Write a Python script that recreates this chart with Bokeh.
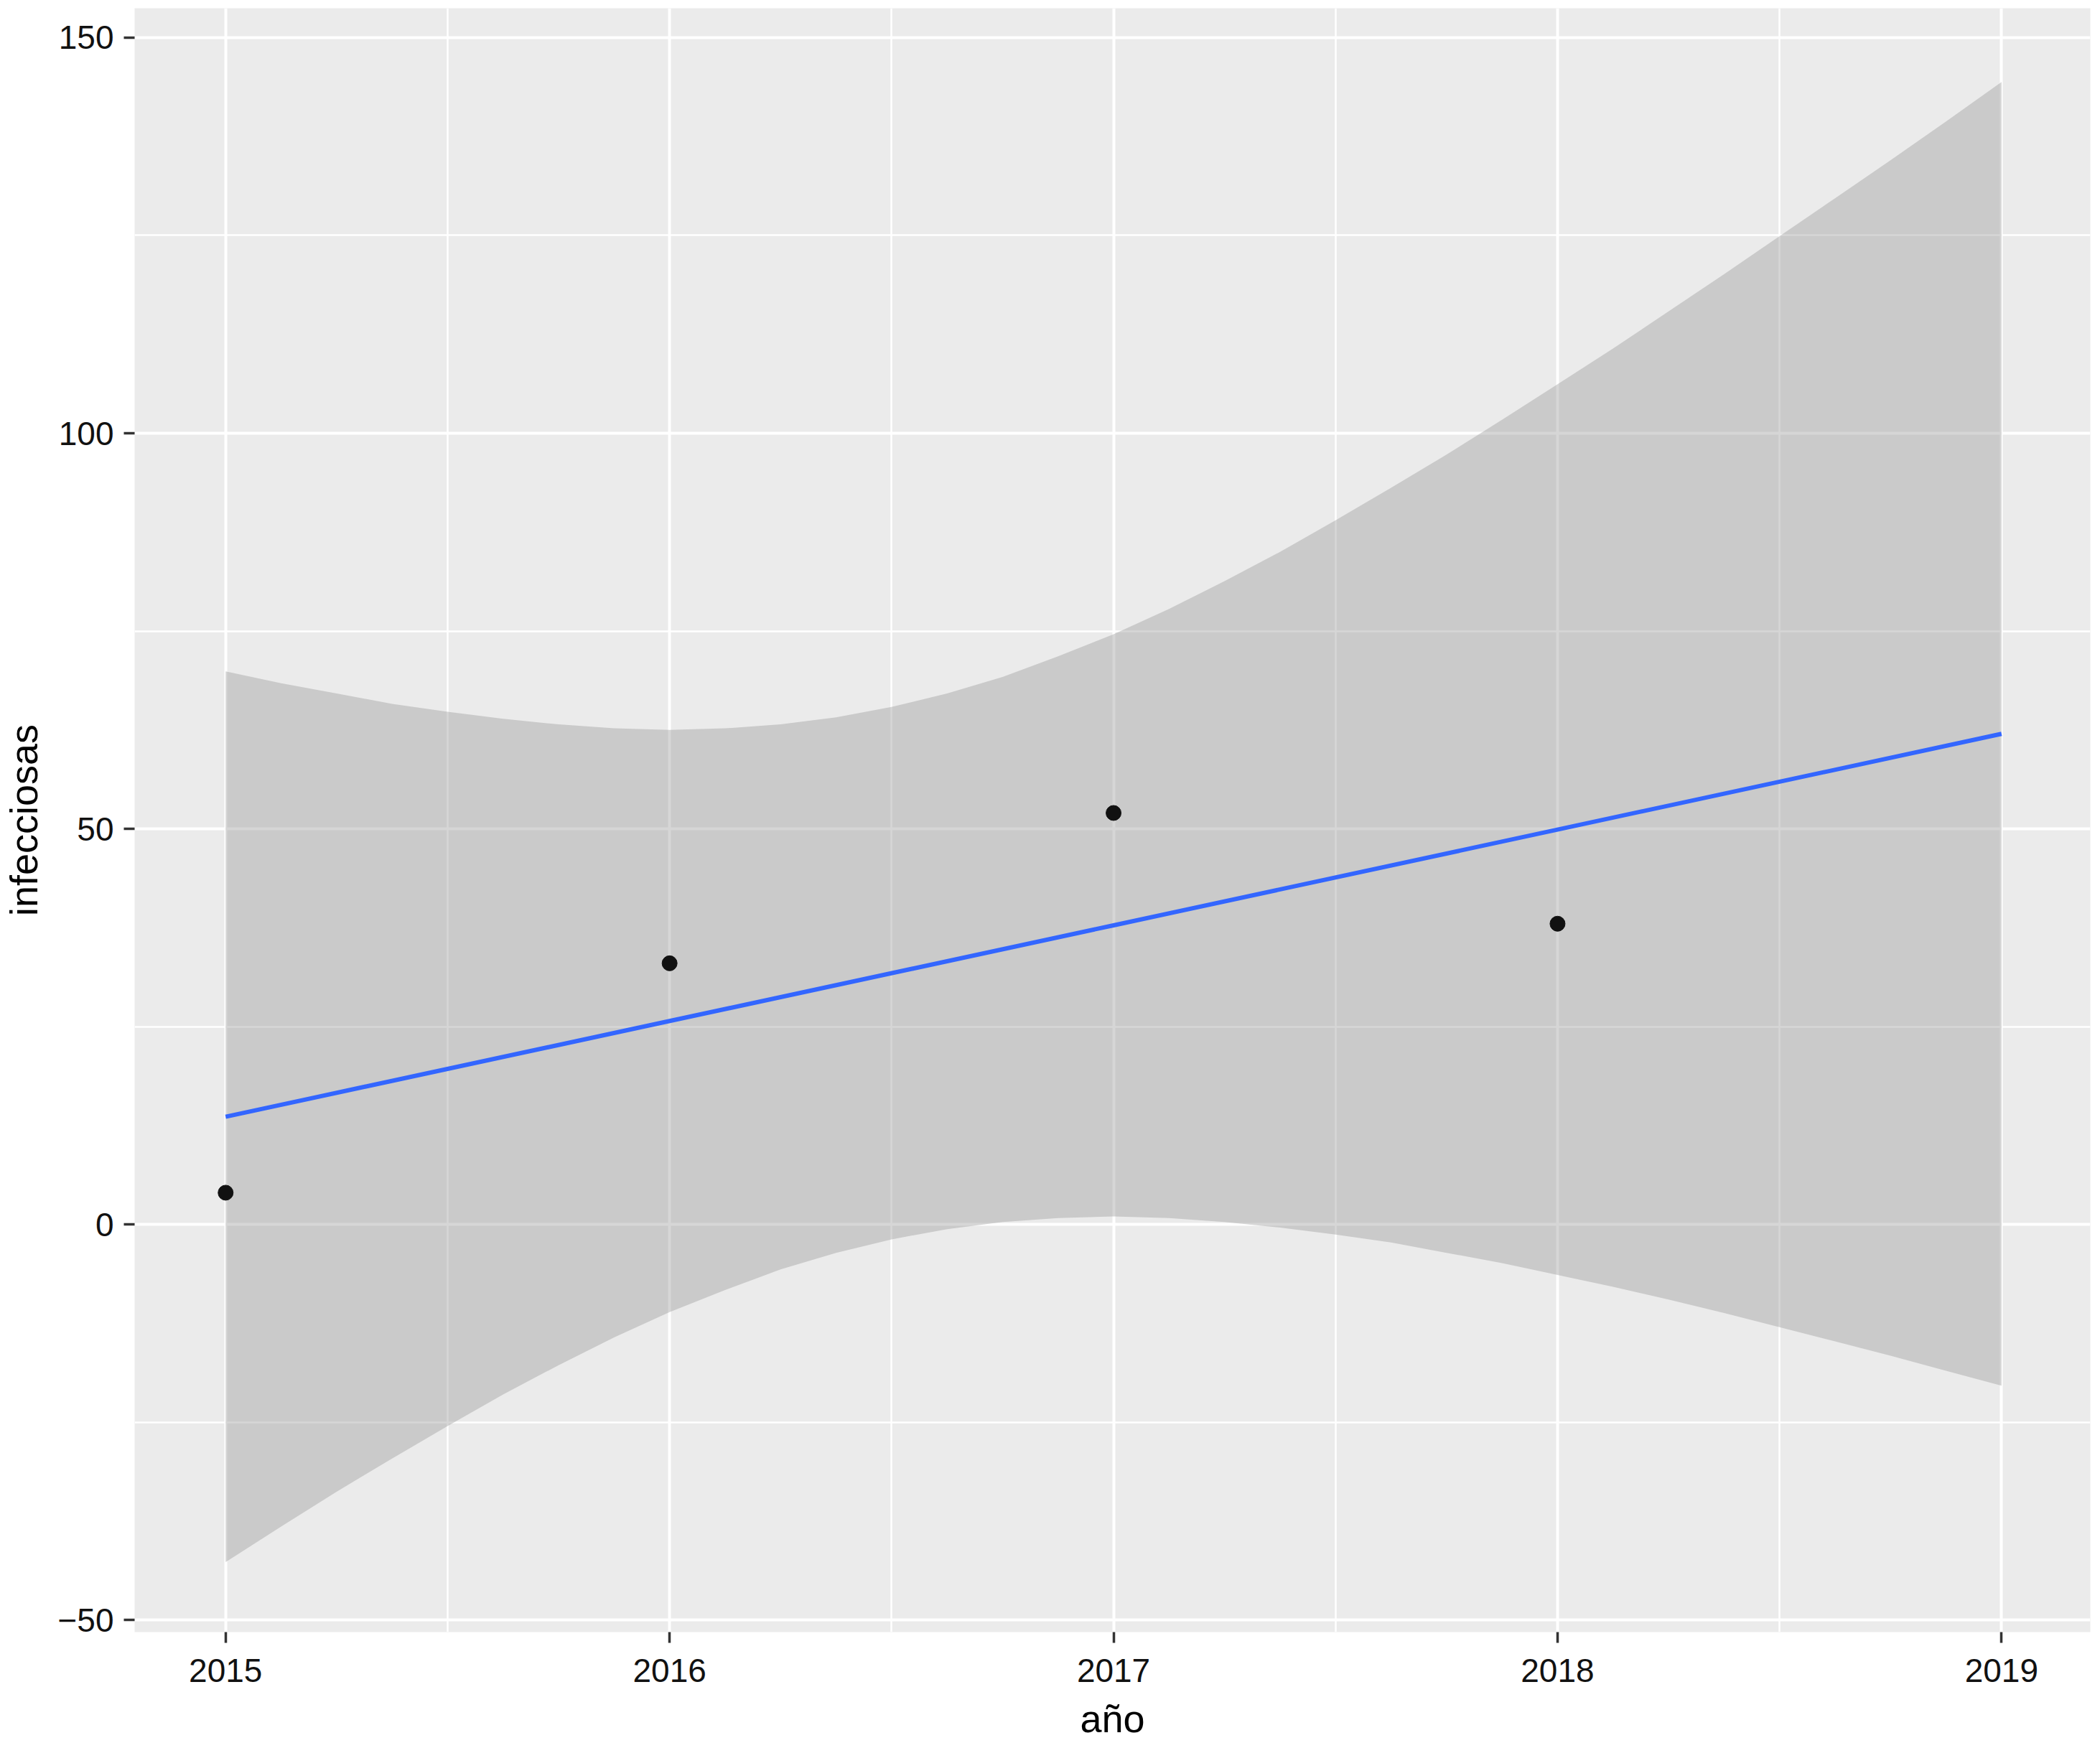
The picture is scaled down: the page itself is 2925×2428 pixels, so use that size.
from bokeh.plotting import figure
from bokeh.models import Range1d, FixedTicker
from bokeh.embed import file_html
from bokeh.resources import INLINE

# observed points
anio = [2015, 2016, 2017, 2018]
infecciosas = [4, 33, 52, 38]

# fitted line
anio_ajuste = [2015.0, 2016.0, 2017.0, 2018.0, 2019.0]
ajuste = [13.6, 25.7, 37.8, 49.9, 62.0]

# confidence band
anio_banda = [2015.0, 2015.125, 2015.25, 2015.375, 2015.5, 2015.625, 2015.75, 2015.875,
              2016.0, 2016.125, 2016.25, 2016.375, 2016.5, 2016.625, 2016.75, 2016.875,
              2017.0, 2017.125, 2017.25, 2017.375, 2017.5, 2017.625, 2017.75, 2017.875,
              2018.0, 2018.125, 2018.25, 2018.375, 2018.5, 2018.625, 2018.75, 2018.875, 2019.0]
ic_sup = [69.9, 68.4, 67.1, 65.8, 64.8, 63.9, 63.2, 62.7,
          62.5, 62.7, 63.2, 64.1, 65.4, 67.1, 69.2, 71.8,
          74.6, 77.8, 81.3, 85.0, 89.0, 93.1, 97.3, 101.7,
          106.2, 110.7, 115.4, 120.1, 124.9, 129.7, 134.5, 139.4, 144.4]
ic_inf = [-42.7, -38.2, -33.8, -29.6, -25.5, -21.5, -17.8, -14.3,
          -11.1, -8.3, -5.7, -3.6, -1.9, -0.6, 0.3, 0.8,
          1.0, 0.8, 0.3, -0.4, -1.3, -2.3, -3.6, -4.9,
          -6.4, -7.9, -9.5, -11.2, -13.0, -14.8, -16.6, -18.5, -20.4]

x_ticks = [2015, 2016, 2017, 2018, 2019]
x_minor = [2015.5, 2016.5, 2017.5, 2018.5]
y_ticks = [-50, 0, 50, 100, 150]
y_minor = [-25, 25, 75, 125]

FONT = "Liberation Sans"

p = figure(width=2917, height=2428,
           x_range=Range1d(2014.795, 2019.2), y_range=Range1d(-51.54, 153.72),
           output_backend="svg", toolbar_location=None,
           min_border_left=186, min_border_right=6, min_border_top=11, min_border_bottom=155,
           background_fill_color="#EBEBEB", border_fill_color="white",
           outline_line_color=None,
           x_axis_label="año", y_axis_label="infecciosas")

p.xaxis.ticker = FixedTicker(ticks=x_ticks, minor_ticks=x_minor)
p.yaxis.ticker = FixedTicker(ticks=y_ticks, minor_ticks=y_minor)

for ax in p.axis:
    ax.axis_line_color = None
    ax.major_tick_line_color = "#333333"
    ax.major_tick_line_width = 3.5
    ax.major_tick_out = 15
    ax.major_tick_in = 0
    ax.minor_tick_line_color = None
    ax.major_label_text_font = FONT
    ax.major_label_text_font_size = "46px"
    ax.major_label_text_color = "#111111"
    ax.axis_label_text_font = FONT
    ax.axis_label_text_font_size = "54px"
    ax.axis_label_text_font_style = "normal"
    ax.axis_label_text_color = "#000000"

p.xaxis.major_label_standoff = 22
p.xaxis.axis_label_standoff = 18
p.yaxis.major_label_standoff = 14
p.yaxis.axis_label_standoff = 14

for g in p.grid:
    g.grid_line_color = "white"
    g.grid_line_width = 4
    g.minor_grid_line_color = "white"
    g.minor_grid_line_width = 2.5

p.varea(x=anio_banda, y1=ic_inf, y2=ic_sup, fill_color="#999999", fill_alpha=0.4)
p.line(x=anio_ajuste, y=ajuste, line_color="#3366FF", line_width=6)
p.scatter(x=anio, y=infecciosas, size=21, fill_color="#111111", line_color="#111111")

open("out.html", "w").write(file_html(p, INLINE))
